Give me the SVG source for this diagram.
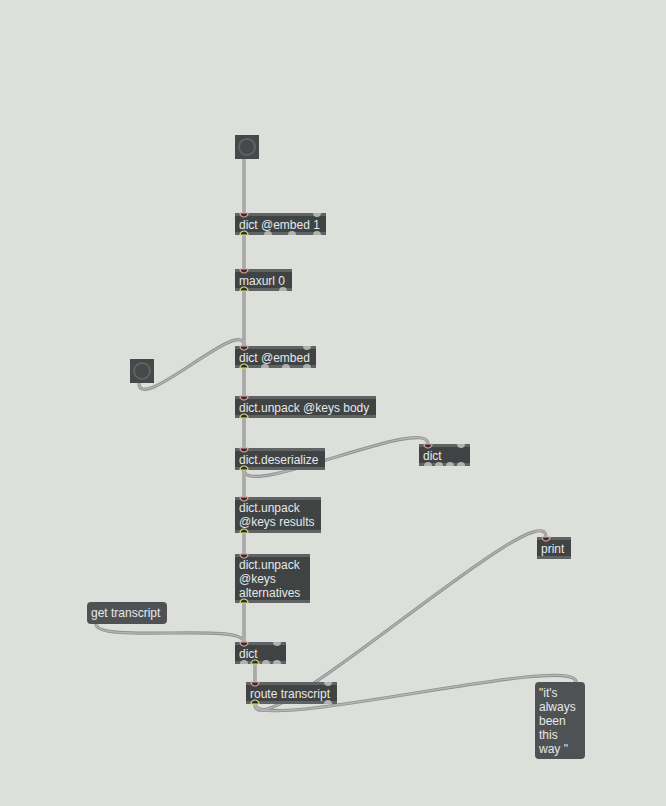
<svg xmlns="http://www.w3.org/2000/svg" width="666" height="806" viewBox="0 0 666 806">
  <style>
    .bg { fill: #dddfda; }
    .cord-out { fill: none; stroke: #8e9090; stroke-width: 3.2; stroke-linecap: round; }
    .cord-in { fill: none; stroke: #b4b5b4; stroke-width: 1.4; stroke-linecap: round; }
    .obj-frame { fill: #606363; }
    .obj-body { fill: #3f4343; }
    .msg { fill: #4f5254; }
    .btn { fill: #464949; }
    .btn-ring { fill: none; stroke: #5d6262; stroke-width: 2; }
    .label { font-family: "Liberation Sans", Arial, sans-serif; font-size: 12px; fill: #e8e8e8; }
    .port { fill: #b0b2b2; }
    .port-in { fill: #2e3030; stroke: #e6a29c; stroke-width: 1.2; }
    .port-out { fill: #2e3030; stroke: #d6dc7c; stroke-width: 1.2; }
  </style>
  <defs>
    <!-- inlet: half disc hanging from the top edge; outlet: half disc rising from the bottom edge -->
    <path id="inlet" d="M-4,0 A4,4 0 0 0 4,0 Z"/>
    <path id="outlet" d="M-4,0 A4,4 0 0 1 4,0 Z"/>
  </defs>

  <rect class="bg" x="0" y="0" width="666" height="806"/>

  <!-- patch cords (drawn under the boxes) -->
  <g id="connectors">
    <g class="cord-out">
      <path d="M244,159 V213"/>
      <path d="M244,235 V269"/>
      <path d="M244,291 V346"/>
      <path d="M139,383 C139,415 244,314 244,346"/>
      <path d="M244,368 V396"/>
      <path d="M244,418 V448"/>
      <path d="M244,470 C244,500 428,414 428,444"/>
      <path d="M244,470 V497"/>
      <path d="M244,533 V554"/>
      <path d="M244,603 V642"/>
      <path d="M96,624 C96,644 244,622 244,642"/>
      <path d="M255,664 V682"/>
      <path d="M255,704 C255,754 546,487 546,537"/>
      <path d="M255,704 C255,734 576,652 576,682"/>
    </g>
    <g class="cord-in">
      <path d="M244,159 V213"/>
      <path d="M244,235 V269"/>
      <path d="M244,291 V346"/>
      <path d="M139,383 C139,415 244,314 244,346"/>
      <path d="M244,368 V396"/>
      <path d="M244,418 V448"/>
      <path d="M244,470 C244,500 428,414 428,444"/>
      <path d="M244,470 V497"/>
      <path d="M244,533 V554"/>
      <path d="M244,603 V642"/>
      <path d="M96,624 C96,644 244,622 244,642"/>
      <path d="M255,664 V682"/>
      <path d="M255,704 C255,754 546,487 546,537"/>
      <path d="M255,704 C255,734 576,652 576,682"/>
    </g>
  </g>

  <!-- bang button -->
  <g id="button-top">
    <rect class="btn" x="235" y="135" width="24" height="24"/>
    <circle class="btn-ring" cx="247" cy="147" r="8"/>
  </g>

  <g id="dict-embed-1">
    <rect class="obj-frame" x="235" y="213" width="91" height="22"/>
    <rect class="obj-body" x="235" y="216" width="91" height="16"/>
    <text class="label" x="239" y="228.5">dict @embed 1</text>
    <use href="#inlet" class="port-in" x="244" y="213"/>
    <use href="#inlet" class="port" x="317" y="213"/>
    <use href="#outlet" class="port-out" x="244" y="235"/>
    <use href="#outlet" class="port" x="268" y="235"/>
    <use href="#outlet" class="port" x="292" y="235"/>
    <use href="#outlet" class="port" x="317" y="235"/>
  </g>

  <g id="maxurl">
    <rect class="obj-frame" x="235" y="269" width="57" height="22"/>
    <rect class="obj-body" x="235" y="272" width="57" height="16"/>
    <text class="label" x="239" y="284.5">maxurl 0</text>
    <use href="#inlet" class="port-in" x="244" y="269"/>
    <use href="#outlet" class="port-out" x="244" y="291"/>
    <use href="#outlet" class="port" x="283" y="291"/>
  </g>

  <g id="dict-embed">
    <rect class="obj-frame" x="235" y="346" width="81" height="22"/>
    <rect class="obj-body" x="235" y="349" width="81" height="16"/>
    <text class="label" x="239" y="361.5">dict @embed</text>
    <use href="#inlet" class="port-in" x="244" y="346"/>
    <use href="#inlet" class="port" x="307" y="346"/>
    <use href="#outlet" class="port-out" x="244" y="368"/>
    <use href="#outlet" class="port" x="265" y="368"/>
    <use href="#outlet" class="port" x="286" y="368"/>
    <use href="#outlet" class="port" x="307" y="368"/>
  </g>

  <g id="button-left">
    <rect class="btn" x="130" y="359" width="24" height="24"/>
    <circle class="btn-ring" cx="142" cy="371" r="8"/>
  </g>

  <g id="unpack-body">
    <rect class="obj-frame" x="235" y="396" width="141" height="22"/>
    <rect class="obj-body" x="235" y="399" width="141" height="16"/>
    <text class="label" x="239" y="411.5">dict.unpack @keys body</text>
    <use href="#inlet" class="port-in" x="244" y="396"/>
    <use href="#outlet" class="port-out" x="244" y="418"/>
  </g>

  <g id="deserialize">
    <rect class="obj-frame" x="235" y="448" width="90" height="22"/>
    <rect class="obj-body" x="235" y="451" width="90" height="16"/>
    <text class="label" x="239" y="463.5">dict.deserialize</text>
    <use href="#inlet" class="port-in" x="244" y="448"/>
    <use href="#outlet" class="port-out" x="244" y="470"/>
  </g>

  <g id="dict-side">
    <rect class="obj-frame" x="419" y="444" width="51" height="22"/>
    <rect class="obj-body" x="419" y="447" width="51" height="16"/>
    <text class="label" x="423" y="459.5">dict</text>
    <use href="#inlet" class="port-in" x="428" y="444"/>
    <use href="#inlet" class="port" x="461" y="444"/>
    <use href="#outlet" class="port" x="428" y="466"/>
    <use href="#outlet" class="port" x="439" y="466"/>
    <use href="#outlet" class="port" x="450" y="466"/>
    <use href="#outlet" class="port" x="461" y="466"/>
  </g>

  <g id="unpack-results">
    <rect class="obj-frame" x="235" y="497" width="86" height="36"/>
    <rect class="obj-body" x="235" y="500" width="86" height="30"/>
    <text class="label" x="239" y="512">dict.unpack</text>
    <text class="label" x="239" y="526">@keys results</text>
    <use href="#inlet" class="port-in" x="244" y="497"/>
    <use href="#outlet" class="port-out" x="244" y="533"/>
  </g>

  <g id="unpack-alternatives">
    <rect class="obj-frame" x="235" y="554" width="75" height="49"/>
    <rect class="obj-body" x="235" y="557" width="75" height="43"/>
    <text class="label" x="239" y="569">dict.unpack</text>
    <text class="label" x="239" y="583">@keys</text>
    <text class="label" x="239" y="597">alternatives</text>
    <use href="#inlet" class="port-in" x="244" y="554"/>
    <use href="#outlet" class="port-out" x="244" y="603"/>
  </g>

  <g id="msg-get-transcript">
    <rect class="msg" x="87" y="602" width="80" height="22" rx="4"/>
    <text class="label" x="91" y="617">get transcript</text>
  </g>

  <g id="dict-bottom">
    <rect class="obj-frame" x="235" y="642" width="51" height="22"/>
    <rect class="obj-body" x="235" y="645" width="51" height="16"/>
    <text class="label" x="239" y="657.5">dict</text>
    <use href="#inlet" class="port-in" x="244" y="642"/>
    <use href="#inlet" class="port" x="277" y="642"/>
    <use href="#outlet" class="port" x="244" y="664"/>
    <use href="#outlet" class="port-out" x="255" y="664"/>
    <use href="#outlet" class="port" x="266" y="664"/>
    <use href="#outlet" class="port" x="277" y="664"/>
  </g>

  <g id="route-transcript">
    <rect class="obj-frame" x="246" y="682" width="91" height="22"/>
    <rect class="obj-body" x="246" y="685" width="91" height="16"/>
    <text class="label" x="250" y="697.5">route transcript</text>
    <use href="#inlet" class="port-in" x="255" y="682"/>
    <use href="#inlet" class="port" x="328" y="682"/>
    <use href="#outlet" class="port-out" x="255" y="704"/>
    <use href="#outlet" class="port" x="328" y="704"/>
  </g>

  <g id="print">
    <rect class="obj-frame" x="537" y="537" width="34" height="22"/>
    <rect class="obj-body" x="537" y="540" width="34" height="16"/>
    <text class="label" x="541" y="552.5">print</text>
    <use href="#inlet" class="port-in" x="546" y="537"/>
  </g>

  <g id="msg-result">
    <rect class="msg" x="535" y="682" width="50" height="77" rx="4"/>
    <text class="label" x="539" y="696.5">"it's</text>
    <text class="label" x="539" y="710.5">always</text>
    <text class="label" x="539" y="724.5">been</text>
    <text class="label" x="539" y="738.5">this</text>
    <text class="label" x="539" y="752.5">way "</text>
  </g>
</svg>
